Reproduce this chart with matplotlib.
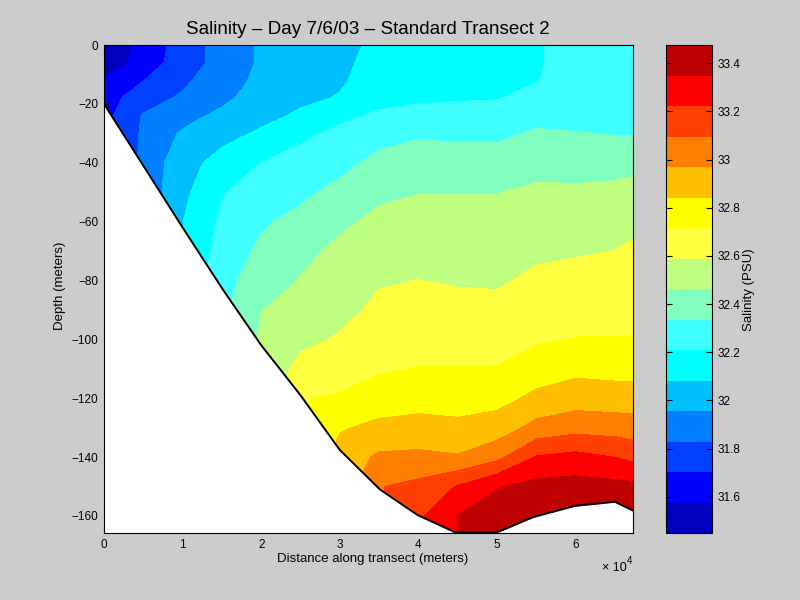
#!/usr/bin/env python3
"""Salinity section along standard transect 2, MATLAB style filled contours."""

import matplotlib

matplotlib.use("Agg")
import matplotlib.pyplot as plt
import numpy as np

plt.rcParams["font.family"] = ["Liberation Sans", "DejaVu Sans"]
plt.rcParams["axes.unicode_minus"] = True

# distance in units of 1e4 m, depth in m
distance = [0, 0.25, 0.5, 0.75, 1, 1.25, 1.5, 1.75, 2, 2.5, 3, 3.5, 4, 4.5, 5, 5.5, 6, 6.5, 6.73]
depth = [0, -6, -12, -18, -24, -30, -40, -50, -60, -70, -80, -90, -100, -110, -120, -130, -140, -150, -160, -170]

# one row per depth, one column per distance
salinity = [
    [31.50, 31.54, 31.62, 31.69, 31.75, 31.82, 31.88, 31.93, 31.97, 32.02, 32.06, 32.10, 32.12, 32.15, 32.18, 32.20, 32.25, 32.25, 32.26],
    [31.50, 31.56, 31.63, 31.70, 31.75, 31.82, 31.88, 31.93, 31.97, 32.03, 32.06, 32.12, 32.14, 32.17, 32.18, 32.20, 32.25, 32.27, 32.27],
    [31.59, 31.64, 31.70, 31.75, 31.80, 31.86, 31.89, 31.94, 31.99, 32.04, 32.07, 32.13, 32.16, 32.18, 32.19, 32.205, 32.25, 32.29, 32.29],
    [31.63, 31.71, 31.77, 31.81, 31.85, 31.88, 31.93, 31.97, 32.01, 32.06, 32.09, 32.17, 32.19, 32.20, 32.205, 32.24, 32.27, 32.30, 32.30],
    [31.66, 31.75, 31.84, 31.88, 31.91, 31.95, 31.98, 32.01, 32.05, 32.10, 32.18, 32.23, 32.25, 32.25, 32.25, 32.30, 32.30, 32.32, 32.32],
    [31.66, 31.76, 31.85, 31.92, 31.97, 32.01, 32.04, 32.07, 32.10, 32.18, 32.24, 32.29, 32.32, 32.31, 32.31, 32.35, 32.34, 32.33, 32.33],
    [31.65, 31.76, 31.86, 31.95, 32.02, 32.08, 32.13, 32.17, 32.21, 32.26, 32.30, 32.37, 32.40, 32.39, 32.39, 32.43, 32.42, 32.42, 32.43],
    [31.65, 31.76, 31.86, 31.96, 32.05, 32.13, 32.20, 32.24, 32.26, 32.31, 32.37, 32.44, 32.46, 32.46, 32.46, 32.48, 32.48, 32.49, 32.50],
    [31.65, 31.76, 31.86, 31.96, 32.08, 32.16, 32.23, 32.28, 32.32, 32.37, 32.44, 32.49, 32.50, 32.50, 32.50, 32.52, 32.53, 32.55, 32.56],
    [31.64, 31.76, 31.86, 31.96, 32.08, 32.18, 32.25, 32.31, 32.36, 32.43, 32.49, 32.53, 32.55, 32.54, 32.54, 32.57, 32.58, 32.59, 32.61],
    [31.64, 31.76, 31.86, 31.96, 32.08, 32.20, 32.28, 32.35, 32.39, 32.47, 32.52, 32.58, 32.59, 32.58, 32.575, 32.61, 32.62, 32.63, 32.64],
    [31.64, 31.76, 31.86, 31.96, 32.08, 32.20, 32.30, 32.39, 32.46, 32.51, 32.56, 32.61, 32.63, 32.62, 32.62, 32.65, 32.67, 32.68, 32.68],
    [31.63, 31.76, 31.86, 31.96, 32.08, 32.20, 32.30, 32.39, 32.48, 32.56, 32.60, 32.65, 32.67, 32.67, 32.68, 32.70, 32.72, 32.72, 32.72],
    [31.63, 31.76, 31.86, 31.96, 32.08, 32.20, 32.30, 32.39, 32.48, 32.63, 32.66, 32.70, 32.72, 32.72, 32.72, 32.78, 32.81, 32.80, 32.80],
    [31.62, 31.76, 31.86, 31.96, 32.08, 32.20, 32.30, 32.39, 32.48, 32.71, 32.73, 32.78, 32.80, 32.79, 32.80, 32.87, 32.91, 32.90, 32.90],
    [31.62, 31.76, 31.86, 31.96, 32.08, 32.20, 32.30, 32.39, 32.48, 32.71, 32.83, 32.87, 32.88, 32.87, 32.90, 33.01, 33.05, 33.04, 33.03],
    [31.62, 31.76, 31.86, 31.96, 32.08, 32.20, 32.30, 32.39, 32.48, 32.71, 32.89, 32.99, 33.00, 32.98, 33.06, 33.23, 33.26, 33.22, 33.19],
    [31.61, 31.76, 31.86, 31.96, 32.08, 32.20, 32.30, 32.39, 32.48, 32.71, 32.89, 33.09, 33.13, 33.23, 33.34, 33.39, 33.40, 33.39, 33.38],
    [31.61, 31.76, 31.86, 31.96, 32.08, 32.20, 32.30, 32.39, 32.48, 32.71, 32.89, 33.09, 33.20, 33.35, 33.41, 33.44, 33.46, 33.46, 33.45],
    [31.61, 31.76, 31.86, 31.96, 32.08, 32.20, 32.30, 32.39, 32.48, 32.71, 32.89, 33.09, 33.20, 33.35, 33.45, 33.46, 33.46, 33.46, 33.46],
]

# sea floor
bottom_x = [0, 1, 1.51, 2, 2.5, 3, 3.51, 3.99, 4.47, 5, 5.46, 5.99, 6.5, 6.73]
bottom_z = [-20, -62, -83, -102, -119, -137.6, -151, -159.7, -165.6, -165.6, -160.4, -156.6, -155.2, -158.2]

band_edges = [31.45, 31.577, 31.703, 31.83, 31.956, 32.083, 32.21, 32.336, 32.463,
              32.589, 32.716, 32.842, 32.969, 33.096, 33.222, 33.349, 33.475]
band_colors = ["#0000bf", "#0000ff", "#0040ff", "#0080ff", "#00bfff", "#00ffff", "#40ffff", "#80ffbf",
               "#bfff80", "#ffff40", "#ffff00", "#ffbf00", "#ff8000", "#ff4000", "#ff0000", "#bf0000"]
cbar_ticks = [31.6, 31.8, 32, 32.2, 32.4, 32.6, 32.8, 33, 33.2, 33.4]
cbar_labels = ["31.6", "31.8", "32", "32.2", "32.4", "32.6", "32.8", "33", "33.2", "33.4"]

fig = plt.figure(figsize=(8, 6), dpi=100, facecolor="#cccccc")
ax = fig.add_axes([104 / 800, 67 / 600, 529 / 800, 488 / 600])
cax = fig.add_axes([666 / 800, 67 / 600, 46 / 800, 488 / 600])

cs = ax.contourf(distance, depth, np.array(salinity), levels=band_edges, colors=band_colors)
ax.fill_between(bottom_x, bottom_z, -170, color="white", lw=0, zorder=3)
ax.plot(bottom_x, bottom_z, color="black", lw=1.4, zorder=4)

ax.set_xlim(0, 6.73)
ax.set_ylim(-165.8, 0)
ax.set_xticks(range(7))
ax.set_yticks(range(-160, 1, 20))
ax.tick_params(direction="in", length=4, width=0.8, labelsize=8.5, pad=4)
for spine in ax.spines.values():
    spine.set_zorder(5)
fig.text(367.5 / 800, 1 - 29 / 600, "Salinity \u2013 Day 7/6/03 \u2013 Standard Transect 2",
         fontsize=13.6, ha="center", va="center")
fig.text(373 / 800, 1 - 559 / 600, "Distance along transect (meters)", fontsize=9.5, ha="center", va="center")
fig.text(60 / 800, 1 - 286 / 600, "Depth (meters)", fontsize=9.5, rotation=90, ha="center", va="center")
fig.text(602 / 800, 1 - 568 / 600, "\u00d7 10", fontsize=9, ha="left", va="center")
fig.text(627 / 800, 1 - 561 / 600, "4", fontsize=7, ha="left", va="center")

cb = fig.colorbar(cs, cax=cax)
cb.set_ticks(cbar_ticks, labels=cbar_labels)
cb.minorticks_off()
cax.tick_params(direction="in", left=True, right=True, length=4, width=0.8, labelsize=8.5, pad=4)
fig.text(749 / 800, 1 - 290 / 600, "Salinity (PSU)", fontsize=9.5, rotation=90, ha="center", va="center")

fig.savefig("out.png", dpi=100, facecolor=fig.get_facecolor())
